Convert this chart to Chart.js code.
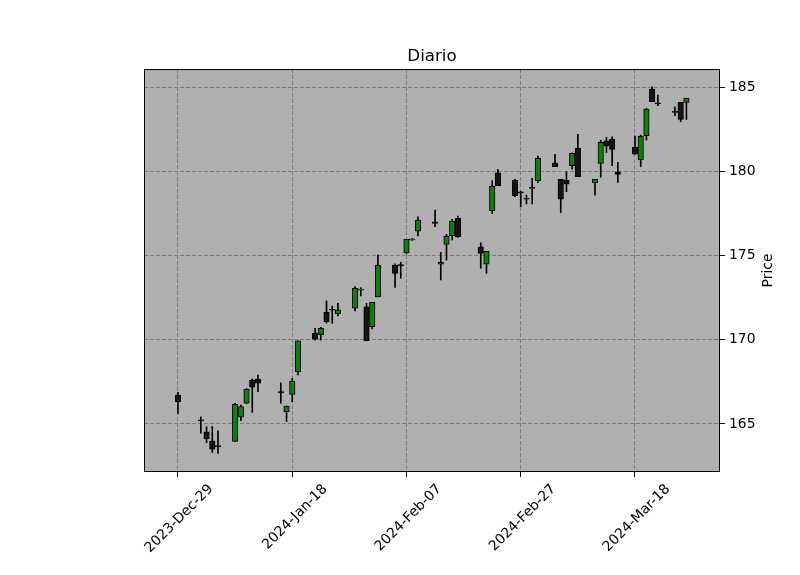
<!DOCTYPE html>
<html>
<head>
<meta charset="utf-8">
<script src="https://cdn.jsdelivr.net/npm/chart.js@4.4.0/dist/chart.umd.min.js"></script>
<style>
  html, body { margin: 0; padding: 0; background: #fff; }
  #wrap { width: 800px; height: 575px; }
</style>
</head>
<body>
<div id="wrap"><canvas id="candleChart" width="800" height="575"></canvas></div>
<script>
// Candles: Diario (daily OHLC)
const dates = [
  '2023-12-29', '2024-01-02', '2024-01-03', '2024-01-04', '2024-01-05',
  '2024-01-08', '2024-01-09', '2024-01-10', '2024-01-11', '2024-01-12',
  '2024-01-16', '2024-01-17', '2024-01-18', '2024-01-19',
  '2024-01-22', '2024-01-23', '2024-01-24', '2024-01-25', '2024-01-26',
  '2024-01-29', '2024-01-30', '2024-01-31', '2024-02-01', '2024-02-02',
  '2024-02-05', '2024-02-06', '2024-02-07', '2024-02-08', '2024-02-09',
  '2024-02-12', '2024-02-13', '2024-02-14', '2024-02-15', '2024-02-16',
  '2024-02-20', '2024-02-21', '2024-02-22', '2024-02-23',
  '2024-02-26', '2024-02-27', '2024-02-28', '2024-02-29', '2024-03-01',
  '2024-03-04', '2024-03-05', '2024-03-06', '2024-03-07', '2024-03-08',
  '2024-03-11', '2024-03-12', '2024-03-13', '2024-03-14', '2024-03-15',
  '2024-03-18', '2024-03-19', '2024-03-20', '2024-03-21', '2024-03-22',
  '2024-03-25', '2024-03-26', '2024-03-27'
];
const opens = [
  166.72, 165.24, 164.54, 163.99, 163.72,
  163.97, 165.40, 166.23, 167.61, 167.67,
  166.92, 165.73, 166.76, 168.10,
  170.40, 170.30, 171.65, 171.82, 171.55,
  171.87, 172.94, 171.96, 170.77, 172.55,
  174.44, 174.46, 175.17, 175.92, 176.44,
  177.00, 174.48, 175.66, 176.18, 177.21,
  175.52, 174.48, 177.66, 179.91,
  179.48, 178.78, 178.40, 179.05, 179.44,
  180.49, 179.52, 179.46, 180.33, 181.36,
  179.32, 180.47, 181.81, 181.90, 179.96,
  181.42, 180.67, 182.11, 184.88, 184.06,
  183.56, 184.09, 184.09
];
const highs = [
  166.88, 165.43, 164.84, 164.85, 164.60,
  166.23, 166.13, 167.10, 167.67, 167.91,
  167.45, 166.07, 167.71, 169.93,
  170.68, 170.74, 172.30, 172.00, 172.16,
  173.15, 173.09, 172.16, 172.22, 175.03,
  174.50, 174.60, 175.96, 176.00, 177.30,
  177.70, 175.19, 176.26, 177.15, 177.34,
  175.76, 175.25, 179.44, 180.12,
  179.52, 178.80, 178.59, 179.58, 180.91,
  181.01, 179.52, 179.97, 181.10, 182.19,
  179.52, 181.85, 182.01, 182.05, 180.53,
  182.09, 182.15, 183.74, 185.02, 184.53,
  183.83, 184.09, 184.33
];
const lows = [
  165.63, 164.45, 163.89, 163.30, 163.26,
  163.95, 165.20, 166.20, 165.69, 166.92,
  166.23, 165.14, 166.32, 167.91,
  169.98, 169.98, 170.99, 170.98, 171.41,
  171.71, 172.60, 169.94, 170.64, 172.55,
  173.11, 173.65, 175.10, 175.90, 176.16,
  176.71, 173.55, 174.73, 175.92, 176.08,
  174.24, 173.94, 177.50, 179.14,
  178.49, 177.90, 178.06, 178.06, 179.32,
  180.27, 177.54, 178.79, 180.13, 179.68,
  178.59, 179.64, 181.12, 180.33, 179.34,
  181.01, 180.27, 181.85, 184.13, 183.89,
  183.30, 182.94, 183.08
];
const closes = [
  166.32, 165.18, 164.11, 163.50, 163.66,
  166.17, 166.03, 167.06, 167.18, 167.42,
  166.85, 166.07, 167.55, 169.93,
  170.04, 170.68, 171.07, 171.76, 171.77,
  173.05, 173.01, 169.94, 172.22, 174.44,
  173.94, 174.39, 175.96, 175.99, 177.11,
  176.90, 174.60, 176.16, 177.05, 176.12,
  175.13, 175.25, 179.12, 179.14,
  178.55, 178.72, 178.34, 178.99, 180.77,
  180.27, 178.34, 179.23, 181.07, 179.68,
  179.52, 181.72, 181.50, 181.30, 179.82,
  181.01, 182.09, 183.69, 184.13, 184.00,
  183.50, 183.08, 184.33
];
const tickDates = ['2023-12-29', '2024-01-18', '2024-02-07', '2024-02-27', '2024-03-18'];
const priceTicks = [165, 170, 175, 180, 185];

const monthNames = ['Jan', 'Feb', 'Mar', 'Apr', 'May', 'Jun', 'Jul', 'Aug', 'Sep', 'Oct', 'Nov', 'Dec'];
const baseDay = Date.UTC(2023, 11, 29);
function dayNum(s) {
  const [y, m, d] = s.split('-').map(Number);
  return (Date.UTC(y, m - 1, d) - baseDay) / 86400000;
}
function dayLabel(n) {
  const d = new Date(baseDay + n * 86400000);
  return d.getUTCFullYear() + '-' + monthNames[d.getUTCMonth()] + '-' + String(d.getUTCDate()).padStart(2, '0');
}

const xs = dates.map(dayNum);
const bodies = xs.map((x, i) => ({ x: x, y: [opens[i], closes[i]] }));
const wicks = xs.map((x, i) => ({ x: x, y: [lows[i], highs[i]] }));
const bodyColors = closes.map((c, i) => c >= opens[i] ? '#0b800b' : '#141414');

const font = { family: 'DejaVu Sans', size: 13.9 };

// grey plot background, black frame and the right-hand "Price" label
const framePlugin = {
  id: 'frame',
  beforeDraw(chart) {
    const { ctx, chartArea: a } = chart;
    ctx.save();
    ctx.fillStyle = '#b0b0b0';
    ctx.fillRect(a.left, a.top, a.right - a.left, a.bottom - a.top);
    ctx.restore();
  },
  afterDraw(chart) {
    const { ctx, chartArea: a } = chart;
    ctx.save();
    ctx.setLineDash([]);
    ctx.strokeStyle = '#000';
    ctx.lineWidth = 1;
    ctx.strokeRect(a.left + 0.5, a.top + 0.5, a.right - a.left - 1, a.bottom - a.top - 1);
    ctx.translate(a.right + 48, (a.top + a.bottom) / 2);
    ctx.rotate(-Math.PI / 2);
    ctx.textAlign = 'center';
    ctx.textBaseline = 'middle';
    ctx.fillStyle = '#000';
    ctx.font = '13.9px "DejaVu Sans"';
    ctx.fillText('Price', 0, 0);
    ctx.restore();
  }
};

const ctx = document.getElementById('candleChart').getContext('2d');
new Chart(ctx, {
  type: 'bar',
  data: {
    datasets: [
      {
        label: 'body',
        data: bodies,
        backgroundColor: bodyColors,
        borderColor: '#000',
        borderWidth: 1,
        borderSkipped: false,
        barThickness: 5.5,
        minBarLength: 1,
        grouped: false,
        order: 0
      },
      {
        label: 'wick',
        data: wicks,
        backgroundColor: '#000',
        borderWidth: 0,
        barThickness: 1,
        grouped: false,
        order: 1
      }
    ]
  },
  options: {
    responsive: false,
    animation: false,
    layout: { padding: { left: 144, right: 0, top: 0, bottom: 0 } },
    plugins: {
      legend: { display: false },
      tooltip: { enabled: false },
      title: {
        display: true,
        text: 'Diario',
        fullSize: false,
        color: '#000',
        font: { family: 'DejaVu Sans', size: 16.7, weight: 'normal' },
        padding: { top: 47, bottom: 2 }
      }
    },
    scales: {
      x: {
        type: 'linear',
        offset: false,
        min: -5.95,
        max: 94.88,
        afterBuildTicks: s => { s.ticks = tickDates.map(d => ({ value: dayNum(d) })); },
        afterFit: s => { s.height = 103; },
        ticks: {
          autoSkip: false,
          minRotation: 45,
          maxRotation: 45,
          labelOffset: 33,
          padding: 4,
          color: '#000',
          font: font,
          callback: v => dayLabel(v)
        },
        grid: { offset: false, color: '#7a7a7a', lineWidth: 1, tickColor: '#000', tickLength: 5, tickBorderDash: [] },
        border: { display: false, dash: [4, 2] }
      },
      y: {
        position: 'right',
        min: 162.15,
        max: 186.07,
        afterBuildTicks: s => { s.ticks = priceTicks.map(v => ({ value: v })); },
        afterFit: s => { s.width = 80; },
        ticks: { padding: 4, color: '#000', font: font },
        grid: { color: '#7a7a7a', lineWidth: 1, tickColor: '#000', tickLength: 5, tickBorderDash: [] },
        border: { display: false, dash: [4, 2] }
      }
    }
  },
  plugins: [framePlugin]
});
</script>
</body>
</html>
